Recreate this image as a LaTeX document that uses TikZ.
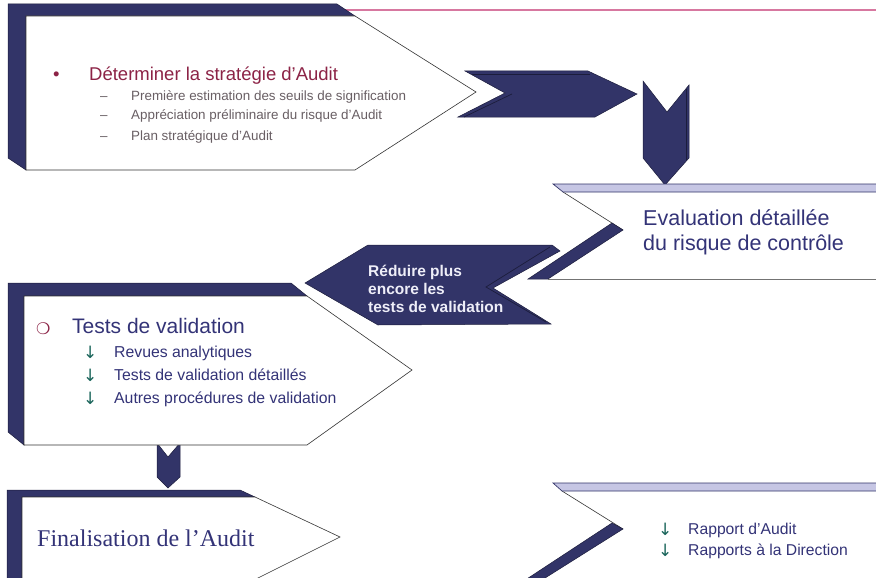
\documentclass[tikz,border=0pt]{standalone}
\usepackage{fontspec}
\setmainfont{Liberation Sans}
\newfontfamily\serifface{Liberation Serif}
\newfontfamily\symface{DejaVu Sans}

\definecolor{navy}{RGB}{50,52,104}
\definecolor{navyedge}{RGB}{28,29,60}
\definecolor{lavender}{RGB}{198,198,228}
\definecolor{inknavy}{RGB}{51,51,119}
\definecolor{wine}{RGB}{140,35,70}
\definecolor{greytext}{RGB}{105,95,100}
\definecolor{arrowteal}{RGB}{25,100,90}
\definecolor{rosel}{RGB}{215,120,160}
\definecolor{palewhite}{RGB}{238,238,248}

\tikzset{
  solid3d/.style={fill=navy, draw=navyedge, line width=0.5pt},
  face/.style={fill=white, draw=black!80, line width=0.6pt},
  topface/.style={fill=lavender, draw=navy, line width=0.7pt},
  innerline/.style={draw=navyedge, line width=0.7pt},
  txt/.style={inner sep=0pt, anchor=base west},
  fs/.style={font=\fontsize{#1}{#1}\selectfont},
  fsb/.style={font=\bfseries\fontsize{#1}{#1}\selectfont},
  sym/.style={font=\symface\fontsize{#1}{#1}\selectfont},
}

\begin{document}
\begin{tikzpicture}[x=1pt,y=-1pt]
\useasboundingbox (0,0) rectangle (876,578);
\clip (0,0) rectangle (876,578);

% rule along the top of the page
\draw[rosel, line width=1.2pt] (340,10) -- (876,10);

% ---------- connectors (chevrons) ----------
% right-pointing chevron after the strategy box
\path[solid3d] (458,117) -- (505,93) -- (465,71) -- (588,71) -- (637,94) -- (595,117) -- cycle;
\draw[innerline] (472,74) -- (590,74);
\draw[innerline] (512,94) -- (464,117);

% downward chevron into the risk evaluation box
\path[solid3d] (643,81) -- (667,112) -- (689,85) -- (689,158) -- (665,185) -- (643,158) -- cycle;
\draw[innerline] (686,89) -- (686,160);

% left-pointing arrow "Réduire plus encore..."
\path[solid3d] (305,283) -- (368,245) -- (552,245) -- (560,251) -- (493,288) -- (551,324) -- (378,325) -- cycle;
\draw[innerline] (550,247) -- (486,287) -- (546,322);

% downward chevron between validation and finalisation
\path[solid3d] (157,443) -- (168,457) -- (180,443) -- (180,477) -- (168,488) -- (157,477) -- cycle;

% ---------- box 1 : audit strategy ----------
\path[solid3d] (8,4) -- (337,4) -- (355,16) -- (26,16) -- (26,170) -- (8,158) -- cycle;
\path[face] (26,16) -- (355,16) -- (476,92) -- (355,170) -- (26,170) -- cycle;

% ---------- box 2 : detailed risk evaluation ----------
\fill[white] (563,192) -- (880,192) -- (880,279) -- (548,279) -- (623,230) -- cycle;
\draw[black!80, line width=0.6pt] (563,192) -- (623,230);
\draw[black!55, line width=0.8pt] (548,279) -- (880,279);
\path[solid3d] (612,223) -- (623,230) -- (548,279) -- (528,279) -- cycle;
\path[topface] (553,184) -- (880,184) -- (880,192) -- (563,192) -- cycle;

% ---------- box 3 : validation tests ----------
\path[solid3d] (8,283) -- (291,283) -- (307,296) -- (24,296) -- (24,445) -- (8,432) -- cycle;
\path[face] (24,296) -- (307,296) -- (412,370) -- (307,445) -- (24,445) -- cycle;

% ---------- box 4 : finalisation ----------
\path[solid3d] (7,490) -- (240,490) -- (255,497) -- (22,497) -- (22,590) -- (7,590) -- cycle;
\path[face] (22,497) -- (255,497) -- (340,537) -- (250,582) -- (22,582) -- cycle;

% ---------- box 5 : reports ----------
\fill[white] (562,491) -- (880,491) -- (880,590) -- (526,590) -- (623,529) -- cycle;
\draw[black!80, line width=0.6pt] (562,491) -- (623,529);
\path[solid3d] (612,523) -- (623,529) -- (526,590) -- (510,590) -- cycle;
\path[topface] (553,483) -- (880,483) -- (880,491) -- (562,491) -- cycle;

% ---------- texts ----------
% box 1
\node[txt, fs=18.5, text=wine] (b1) at (53,80.5) {•};
\node[txt, fs=18.5, text=wine] (t1) at (89,80.5) {Déterminer la stratégie d’Audit};
\node[txt, fs=13.4, text=greytext] (d1) at (100,100) {–};
\node[txt, fs=13.4, text=greytext] (d2) at (100,120) {–};
\node[txt, fs=13.4, text=greytext] (d3) at (100,140) {–};
\node[txt, fs=13.4, text=greytext] (i1) at (131,100) {Première estimation des seuils de signification};
\node[txt, fs=13.4, text=greytext] (i2) at (131,120) {Appréciation préliminaire du risque d’Audit};
\node[txt, fs=13.4, text=greytext] (i3) at (131,140) {Plan stratégique d’Audit};

% box 2
\node[txt, fs=21.5, text=inknavy] (e1) at (643,225.5) {Evaluation détaillée};
\node[txt, fs=21.5, text=inknavy] (e2) at (643,250.5) {du risque de contrôle};

% reduce arrow
\node[txt, fsb=15.5, text=palewhite] (r1) at (368,276.5) {Réduire plus};
\node[txt, fsb=15.5, text=palewhite] (r2) at (368,294.5) {encore les};
\node[txt, fsb=15.5, text=palewhite] (r3) at (368,312.5) {tests de validation};

% box 3
\node[txt, sym=16, text=wine] (c3) at (36,334) {❍};
\node[txt, fs=21, text=inknavy] (v0) at (72,333) {Tests de validation};
\node[txt, sym=17, text=arrowteal] (a1) at (83,358) {↓};
\node[txt, sym=17, text=arrowteal] (a2) at (83,381) {↓};
\node[txt, sym=17, text=arrowteal] (a3) at (83,404) {↓};
\node[txt, fs=15.8, text=inknavy] (v1) at (114,357) {Revues analytiques};
\node[txt, fs=15.8, text=inknavy] (v2) at (114,380) {Tests de validation détaillés};
\node[txt, fs=15.8, text=inknavy] (v3) at (114,403) {Autres procédures de validation};

% box 4
\node[txt, font=\serifface\fontsize{24}{24}\selectfont, text=inknavy] (f1) at (37,546.5) {Finalisation de l’Audit};

% box 5
\node[txt, sym=17, text=arrowteal] (a4) at (658,535) {↓};
\node[txt, sym=17, text=arrowteal] (a5) at (658,556.5) {↓};
\node[txt, fs=15.7, text=inknavy] (p1) at (688,534) {Rapport d’Audit};
\node[txt, fs=15.7, text=inknavy] (p2) at (688,555.5) {Rapports à la Direction};
\end{tikzpicture}
\end{document}
